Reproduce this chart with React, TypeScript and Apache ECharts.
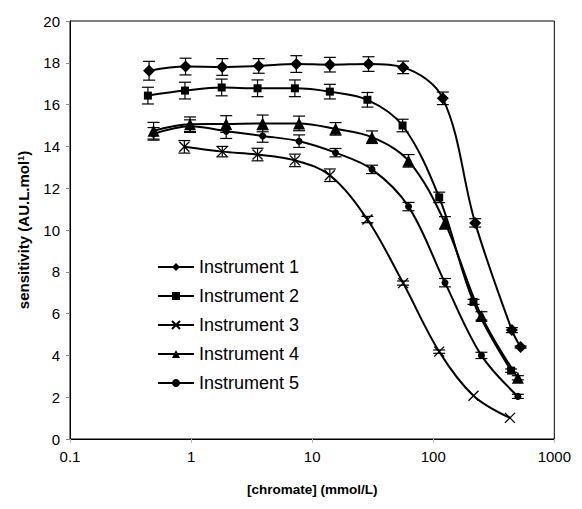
import React, { useEffect, useRef } from "react";
import * as echarts from "echarts";

// ---- data ----
const seriesNames = ["Instrument 1", "Instrument 2", "Instrument 3", "Instrument 4", "Instrument 5"];

const inst1X = [0.45, 0.9, 1.81, 3.62, 7.4, 14.0, 29.2, 56.4, 120, 222, 446, 527];
const inst1Y = [17.62, 17.82, 17.8, 17.85, 17.94, 17.91, 17.94, 17.78, 16.3, 10.34, 5.21, 4.4];
const inst1E = [0.45, 0.4, 0.4, 0.35, 0.4, 0.35, 0.35, 0.3, 0.3, 0.2, 0.12, 0.05];

const inst2X = [0.44, 0.89, 1.79, 3.54, 7.2, 14.0, 28.6, 55.8, 112, 215, 440];
const inst2Y = [16.43, 16.67, 16.82, 16.78, 16.78, 16.62, 16.23, 15.0, 11.56, 6.56, 3.27];
const inst2E = [0.4, 0.4, 0.4, 0.4, 0.4, 0.35, 0.35, 0.3, 0.25, 0.12, 0.08];

const inst3X = [0.88, 1.81, 3.54, 7.2, 14.0, 28.6, 56.4, 112, 215, 430];
const inst3Y = [13.98, 13.75, 13.61, 13.33, 12.62, 10.5, 7.46, 4.18, 2.07, 1.01];
const inst3E = [0.3, 0.25, 0.3, 0.3, 0.3, 0.15, 0.1, 0.08, 0, 0];

const inst4X = [0.49, 0.98, 1.95, 3.9, 7.8, 15.6, 31.2, 62.5, 125, 250, 500];
const inst4Y = [14.75, 15.06, 15.07, 15.1, 15.1, 14.84, 14.44, 13.31, 10.34, 5.89, 2.93];
const inst4E = [0.4, 0.35, 0.4, 0.4, 0.35, 0.3, 0.3, 0.3, 0.3, 0.2, 0.1];

const inst5X = [0.49, 0.98, 1.95, 3.9, 7.8, 15.6, 31.2, 62.5, 125, 250, 500];
const inst5Y = [14.6, 14.97, 14.73, 14.5, 14.25, 13.7, 12.9, 11.12, 7.48, 4.0, 2.04];
const inst5E = [0.3, 0.3, 0.35, 0.3, 0.3, 0.2, 0.2, 0.2, 0.2, 0.15, 0.1];

const yTicks = [0, 2, 4, 6, 8, 10, 12, 14, 16, 18, 20];
const xTicks = [0.1, 1, 10, 100, 1000];

const FONT = 'Arial, "Liberation Sans", sans-serif';

export default function App() {
  const ref = useRef<HTMLDivElement>(null);

  useEffect(() => {
    if (!ref.current) return;
    const chart = echarts.init(ref.current, null, { renderer: "svg" });

    const xs = [inst1X, inst2X, inst3X, inst4X, inst5X];
    const ys = [inst1Y, inst2Y, inst3Y, inst4Y, inst5Y];
    const es = [inst1E, inst2E, inst3E, inst4E, inst5E];
    const symbols = [
      "diamond",
      "rect",
      "path://M0,0L10,10M10,0L0,10",
      "triangle",
      "circle",
    ];
    const sizes = [12, 8, 10, 12, 7];

    const lineSeries = seriesNames.map((name, i) => ({
      name,
      type: "line",
      smooth: 0.35,
      symbol: symbols[i],
      symbolSize: sizes[i],
      showSymbol: true,
      lineStyle: { color: "#000", width: 2 },
      itemStyle: {
        color: i === 2 ? "rgba(0,0,0,0)" : "#000",
        borderColor: "#000",
        borderWidth: i === 2 ? 1.3 : 0,
      },
      z: 3,
      data: xs[i].map((x, k) => [x, ys[i][k]]),
    }));

    const errSeries = seriesNames.map((name, i) => ({
      name: name + " err",
      type: "custom",
      z: 2,
      silent: true,
      encode: { x: 0, y: 1 },
      data: xs[i].map((x, k) => [x, ys[i][k], es[i][k]]),
      renderItem: (params: any, api: any) => {
        const x = api.value(0);
        const y = api.value(1);
        const e = api.value(2);
        if (!e) return { type: "group", children: [] };
        const top = api.coord([x, y + e]);
        const bot = api.coord([x, y - e]);
        const hw = 6;
        const st = { stroke: "#000", lineWidth: 1.2 };
        return {
          type: "group",
          children: [
            { type: "line", shape: { x1: top[0], y1: top[1], x2: bot[0], y2: bot[1] }, style: st },
            { type: "line", shape: { x1: top[0] - hw, y1: top[1], x2: top[0] + hw, y2: top[1] }, style: st },
            { type: "line", shape: { x1: bot[0] - hw, y1: bot[1], x2: bot[0] + hw, y2: bot[1] }, style: st },
          ],
        };
      },
    }));

    chart.setOption({
      animation: false,
      backgroundColor: "#fff",
      grid: {
        left: 60,
        right: 13,
        top: 13,
        bottom: 53,
        show: true,
        borderColor: "#000",
        borderWidth: 1,
        containLabel: false,
      },
      legend: {
        data: seriesNames,
        orient: "vertical",
        left: 149,
        top: 250,
        padding: 0,
        itemWidth: 36,
        itemHeight: 10,
        itemGap: 11,
        textStyle: { fontFamily: FONT, fontSize: 18, color: "#000" },
      },
      xAxis: {
        type: "log",
        logBase: 10,
        min: xTicks[0],
        max: xTicks[xTicks.length - 1],
        name: "[chromate] (mmol/L)",
        nameLocation: "middle",
        nameGap: 43,
        nameTextStyle: { fontFamily: FONT, fontSize: 13.5, fontWeight: "bold", color: "#000" },
        axisLine: { lineStyle: { color: "#000", width: 1 } },
        axisTick: { show: true, length: 4, lineStyle: { color: "#bbb" } },
        minorTick: { show: false },
        splitLine: { show: false },
        axisLabel: {
          fontFamily: FONT,
          fontSize: 15,
          color: "#000",
          margin: 10,
          formatter: (v: number) => String(v),
        },
      },
      yAxis: {
        type: "value",
        min: yTicks[0],
        max: yTicks[yTicks.length - 1],
        interval: 2,
        name: "sensitivity (AU.L.mol{s|1})",
        nameLocation: "middle",
        nameGap: 39,
        nameTextStyle: {
          fontFamily: FONT,
          fontSize: 15,
          fontWeight: "bold",
          color: "#000",
          rich: { s: { fontFamily: FONT, fontSize: 9, fontWeight: "bold", verticalAlign: "top", padding: [0, 0, 6, 0] } },
        },
        axisLine: { show: true, lineStyle: { color: "#000", width: 1 } },
        axisTick: { show: true, length: 4, lineStyle: { color: "#888" } },
        splitLine: { show: false },
        axisLabel: { fontFamily: FONT, fontSize: 15, color: "#000", margin: 10 },
      },
      series: [...errSeries, ...lineSeries],
    });

    return () => chart.dispose();
  }, []);

  return <div ref={ref} style={{ width: 566, height: 493 }} />;
}
